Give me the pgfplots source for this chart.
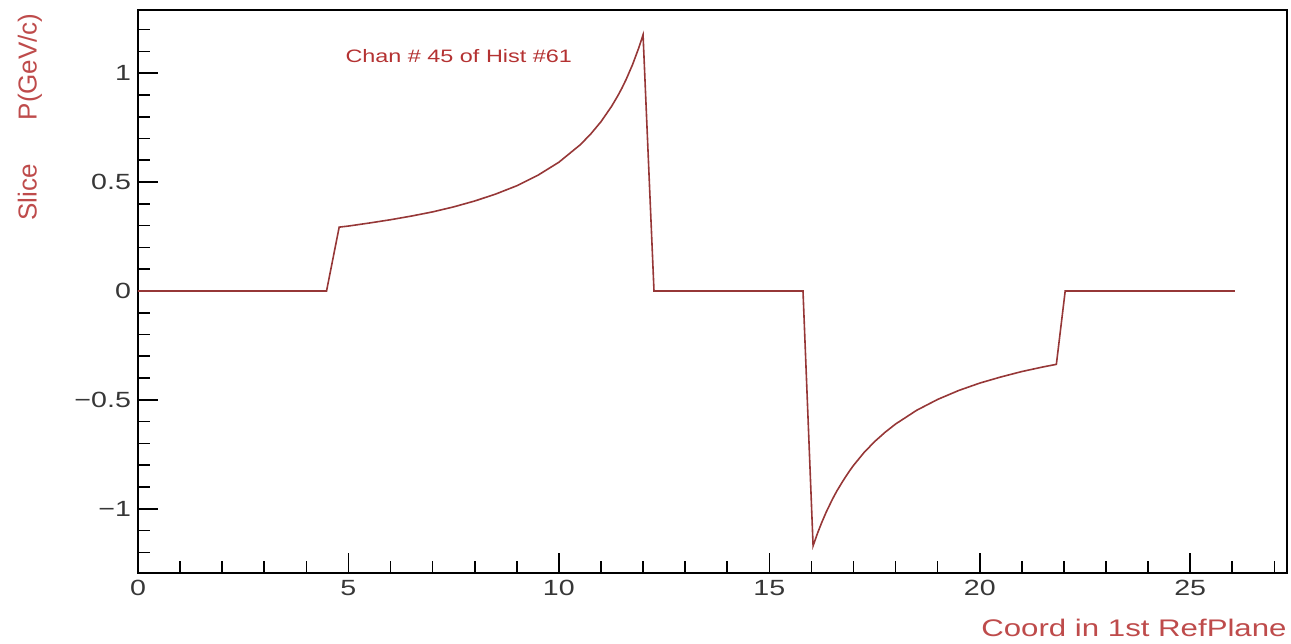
\documentclass[border=0pt]{standalone}
\usepackage{fontspec}
\usepackage{pgfplots}
\pgfplotsset{compat=1.18}
\setmainfont{Liberation Sans}
\newfontfamily\widefont[FakeStretch=1.3]{Liberation Sans}
\definecolor{curve}{RGB}{150,55,55}
\definecolor{lab}{RGB}{190,75,75}
\definecolor{ttl}{RGB}{180,50,50}
\definecolor{ticktext}{RGB}{55,55,55}
\begin{document}
\begin{tikzpicture}
\begin{axis}[
  scale only axis, width=574.5pt, height=281.5pt,
  xmin=0, xmax=27.3, ymin=-1.295, ymax=1.29,
  axis line style={line width=0.9pt},
  xtick={0,5,10,15,20,25},
  ytick={-1,-0.5,0,0.5,1},
  yticklabels={−1,−0.5,0,0.5,1},
  minor xtick={0,1,...,27},
  minor ytick={-1.2,-1.1,...,1.2},
  xtick pos=left, ytick pos=left,
  tick align=inside,
  major tick length=10pt, minor tick length=6pt,
  tick style={black, line width=0.8pt},
  ticklabel style={font=\widefont\fontsize{11}{13}\selectfont, text=ticktext},
  /pgf/number format/assume math mode=true,
  clip=false,
]
% momentum slice along the first reference plane
\addplot[color=curve, line width=0.8pt] coordinates {
  (0,0) (4.48,0) (4.78,0.293) (5.0,0.298) (5.5,0.312) (6.0,0.327)
  (6.5,0.344) (7.0,0.363) (7.5,0.386) (8.0,0.413) (8.5,0.445)
  (9.0,0.483) (9.5,0.531) (10.0,0.591) (10.5,0.670) (10.75,0.719)
  (11.0,0.777) (11.25,0.847) (11.4,0.896) (11.5,0.932) (11.6,0.972)
  (11.75,1.039) (11.9,1.117) (12.0,1.176)
  (12.26,0) (15.8,0)
  (16.04,-1.170) (16.15,-1.110) (16.25,-1.061) (16.35,-1.016)
  (16.5,-0.956) (16.6,-0.920) (16.75,-0.872) (16.9,-0.828)
  (17.0,-0.801) (17.25,-0.742) (17.5,-0.692) (17.75,-0.649) (18.0,-0.611)
  (18.5,-0.548) (19.0,-0.498) (19.5,-0.457) (20.0,-0.423)
  (20.5,-0.395) (21.0,-0.370) (21.5,-0.349) (21.82,-0.337)
  (22.03,0) (26.06,0)
};
\node[text=ttl, font=\widefont\fontsize{9}{11}\selectfont] at (axis cs:7.62,1.08) {Chan \# 45 of Hist \#61};
\node[rotate=90, anchor=east, text=lab, font=\fontsize{13}{15}\selectfont, inner sep=0pt]
  at ([shift={(-54pt,-1.5pt)}]rel axis cs:0,1) {Slice\hspace{22pt}P(GeV/c)};
\node[anchor=east, text=lab, font=\widefont\fontsize{12}{14}\selectfont, inner sep=0pt]
  at ([yshift=-27.5pt]rel axis cs:1,0) {Coord in 1st RefPlane};
\coordinate (ll) at (rel axis cs:0,0);
\coordinate (ur) at (rel axis cs:1,1);
\end{axis}
\pgfresetboundingbox
\path ([shift={(-69pt,-35pt)}]ll) rectangle ([shift={(2pt,5pt)}]ur);
\end{tikzpicture}
\end{document}
